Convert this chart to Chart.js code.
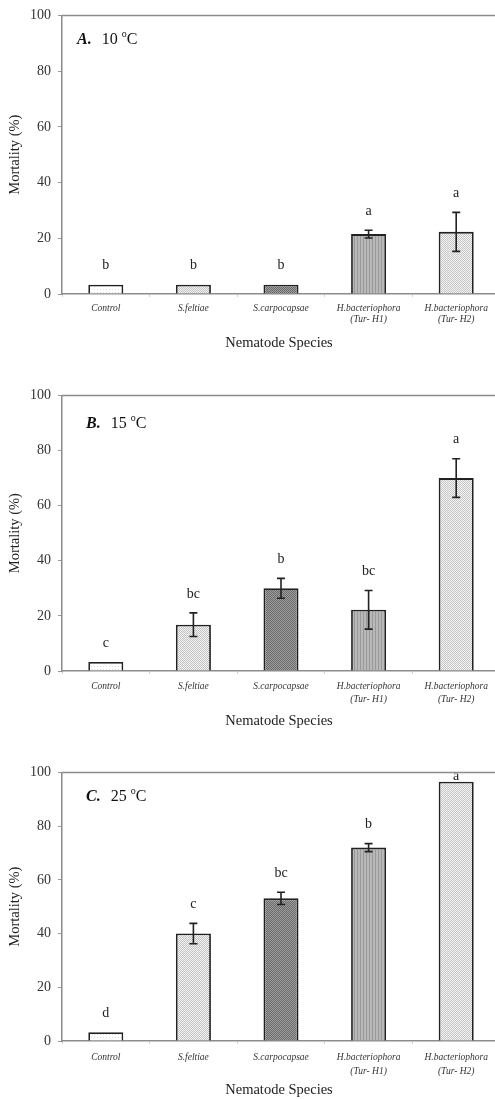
<!DOCTYPE html>
<html>
<head>
<meta charset="utf-8">
<script src="https://cdn.jsdelivr.net/npm/chart.js@4"></script>
<style>
html,body{margin:0;padding:0;background:#fff;overflow:hidden;width:495px;height:1099px;}
.p{position:absolute;left:0;}
canvas{display:block;}
</style>
</head>
<body>
<div class="p" style="top:0px"><canvas id="cA" width="500" height="360"></canvas></div>
<div class="p" style="top:380px"><canvas id="cB" width="500" height="360"></canvas></div>
<div class="p" style="top:757px"><canvas id="cC" width="500" height="342"></canvas></div>
<script>
// ---- data ----
const categories = [['Control'], ['S.feltiae'], ['S.carpocapsae'], ['H.bacteriophora', '(Tur- H1)'], ['H.bacteriophora', '(Tur- H2)']];
const yTicks = [0, 20, 40, 60, 80, 100];

const mortalityA = [3.3, 3.3, 3.3, 21.5, 22.3];
const errorA     = [0, 0, 0, 1.4, 7.0];
const lettersA   = ['b', 'b', 'b', 'a', 'a'];

const mortalityB = [3.3, 16.8, 30.0, 22.2, 70.0];
const errorB     = [0, 4.3, 3.6, 7.0, 7.0];
const lettersB   = ['c', 'bc', 'b', 'bc', 'a'];

const mortalityC = [3.3, 40.0, 53.1, 72.0, 96.5];
const errorC     = [0, 3.8, 2.3, 1.5, 0];
const lettersC   = ['d', 'c', 'bc', 'b', 'a'];

const panelLabels = ['A.', 'B.', 'C.'];
const panelTemps  = ['10', '15', '25'];
const xTitle = 'Nematode Species';
const yTitle = 'Mortality (%)';

// ---- patterns ----
function makePattern(w, h, draw) {
  const c = document.createElement('canvas');
  c.width = w; c.height = h;
  const g = c.getContext('2d');
  draw(g);
  return g.createPattern(c, 'repeat');
}
function checker(c1, c2) {
  return makePattern(2, 2, g => {
    g.fillStyle = c1; g.fillRect(0, 0, 2, 2);
    g.fillStyle = c2; g.fillRect(0, 0, 1, 1); g.fillRect(1, 1, 1, 1);
  });
}
const fillControl = makePattern(3, 3, g => {
  g.fillStyle = '#ffffff'; g.fillRect(0, 0, 3, 3);
  g.fillStyle = '#dcdcdc'; g.fillRect(1, 1, 1, 1);
});
const fillFeltiae = checker('#f0f0f0', '#c6c6c6');
const fillCarpo = checker('#9c9c9c', '#6c6c6c');
const fillH1 = makePattern(3, 1, g => {
  g.fillStyle = '#b8b8b8'; g.fillRect(0, 0, 3, 1);
  g.fillStyle = '#9a9a9a'; g.fillRect(0, 0, 1, 1);
});
const fillH2 = checker('#f2f2f2', '#c8c8c8');
const barFills = [fillControl, fillFeltiae, fillCarpo, fillH1, fillH2];

const SERIF = '"Liberation Serif", "Times New Roman", serif';

const decorPlugin = {
  id: 'decor',
  afterDatasetsDraw(chart, args, opts) {
    const ctx = chart.ctx;
    const a = chart.chartArea;
    const y = chart.scales.y;
    const meta = chart.getDatasetMeta(0);
    ctx.save();
    // top border
    ctx.strokeStyle = '#8c8c8c';
    ctx.lineWidth = 1.5;
    ctx.beginPath();
    ctx.moveTo(a.left, a.top);
    ctx.lineTo(a.right, a.top);
    ctx.lineTo(a.right, a.bottom);
    ctx.stroke();
    // error bars
    ctx.strokeStyle = '#222';
    ctx.lineWidth = 1.6;
    meta.data.forEach((bar, i) => {
      const v = opts.values[i], e = opts.errors[i];
      if (e > 0) {
        const x = bar.x;
        const yt = y.getPixelForValue(v + e);
        const yb = y.getPixelForValue(v - e);
        ctx.beginPath();
        ctx.moveTo(x, yt); ctx.lineTo(x, yb);
        ctx.moveTo(x - 4, yt); ctx.lineTo(x + 4, yt);
        ctx.moveTo(x - 4, yb); ctx.lineTo(x + 4, yb);
        ctx.stroke();
      }
    });
    // significance letters
    ctx.save();
    ctx.beginPath();
    ctx.rect(a.left, a.top + 1, a.right - a.left, a.bottom - a.top);
    ctx.clip();
    ctx.fillStyle = '#222';
    ctx.font = '14px ' + SERIF;
    ctx.textAlign = 'center';
    ctx.textBaseline = 'middle';
    meta.data.forEach((bar, i) => {
      const v = opts.values[i], e = opts.errors[i];
      let ly = y.getPixelForValue(v + e) - opts.letterGap;
      if (ly < a.top + 5) ly = a.top + 4;
      ctx.fillText(opts.letters[i], bar.x, ly);
    });
    ctx.restore();
    // panel title
    const tx = a.left + opts.titleDx, ty = a.top + opts.titleDy;
    ctx.fillStyle = '#111';
    ctx.textBaseline = 'middle';
    ctx.textAlign = 'left';
    ctx.font = 'bold italic 16px ' + SERIF;
    ctx.fillText(opts.label, tx, ty);
    let cx = tx + ctx.measureText(opts.label).width + 10;
    ctx.font = '16px ' + SERIF;
    ctx.fillText(opts.temp + ' ', cx, ty);
    cx += ctx.measureText(opts.temp + ' ').width;
    ctx.font = '10px ' + SERIF;
    ctx.fillText('o', cx, ty - 5);
    cx += ctx.measureText('o').width;
    ctx.font = '16px ' + SERIF;
    ctx.fillText('C', cx, ty);
    // axis titles
    ctx.fillStyle = '#222';
    ctx.font = '14.5px ' + SERIF;
    ctx.textAlign = 'center';
    ctx.fillText(xTitle, (a.left + a.right) / 2 - 2, a.bottom + opts.xTitleGap);
    ctx.translate(15, (a.top + a.bottom) / 2);
    ctx.rotate(-Math.PI / 2);
    ctx.fillText(yTitle, 0, 0);
    ctx.restore();
  }
};

function makeChart(id, values, errors, letters, label, temp, cfg) {
  return new Chart(document.getElementById(id), {
    type: 'bar',
    data: {
      labels: categories,
      datasets: [{
        data: values,
        backgroundColor: barFills,
        borderColor: '#222',
        borderWidth: 1.8,
        borderSkipped: 'bottom',
        categoryPercentage: 1.0,
        barPercentage: 0.4
      }]
    },
    options: {
      responsive: false,
      animation: false,
      devicePixelRatio: 1,
      layout: { padding: { top: cfg.top, right: 0, left: 0, bottom: 0 } },
      plugins: {
        legend: { display: false },
        tooltip: { enabled: false },
        decor: {
          values, errors, letters, label, temp,
          letterGap: 19, titleDx: cfg.titleDx, titleDy: cfg.titleDy, xTitleGap: cfg.xTitleGap
        }
      },
      scales: {
        x: {
          grid: { drawOnChartArea: false, drawTicks: true, tickLength: 3, color: '#d0d0d0', offset: true },
          border: { color: '#8c8c8c', width: 1.5 },
          ticks: {
            color: '#333',
            padding: 6,
            maxRotation: 0,
            autoSkip: false,
            font: { family: SERIF, size: 9.5, style: 'italic', lineHeight: cfg.lh }
          },
          afterFit: s => { s.height = cfg.xh; }
        },
        y: {
          min: 0, max: 100,
          afterBuildTicks: s => { s.ticks = yTicks.map(v => ({ value: v })); },
          grid: { drawOnChartArea: false, drawTicks: true, tickLength: 4, color: '#999' },
          border: { color: '#8c8c8c', width: 1.5 },
          ticks: {
            color: '#333',
            padding: 7,
            font: { family: SERIF, size: 14 }
          },
          afterFit: s => { s.width = 62; }
        }
      }
    },
    plugins: [decorPlugin]
  });
}

makeChart('cA', mortalityA, errorA, lettersA, panelLabels[0], panelTemps[0],
  { top: 12, xh: 66, lh: 1.15, titleDx: 15, titleDy: 24, xTitleGap: 49 });
makeChart('cB', mortalityB, errorB, lettersB, panelLabels[1], panelTemps[1],
  { top: 14, xh: 69, lh: 1.35, titleDx: 24, titleDy: 28, xTitleGap: 50 });
makeChart('cC', mortalityC, errorC, lettersC, panelLabels[2], panelTemps[2],
  { top: 14, xh: 58, lh: 1.5, titleDx: 24, titleDy: 24, xTitleGap: 49 });
</script>
</body>
</html>
